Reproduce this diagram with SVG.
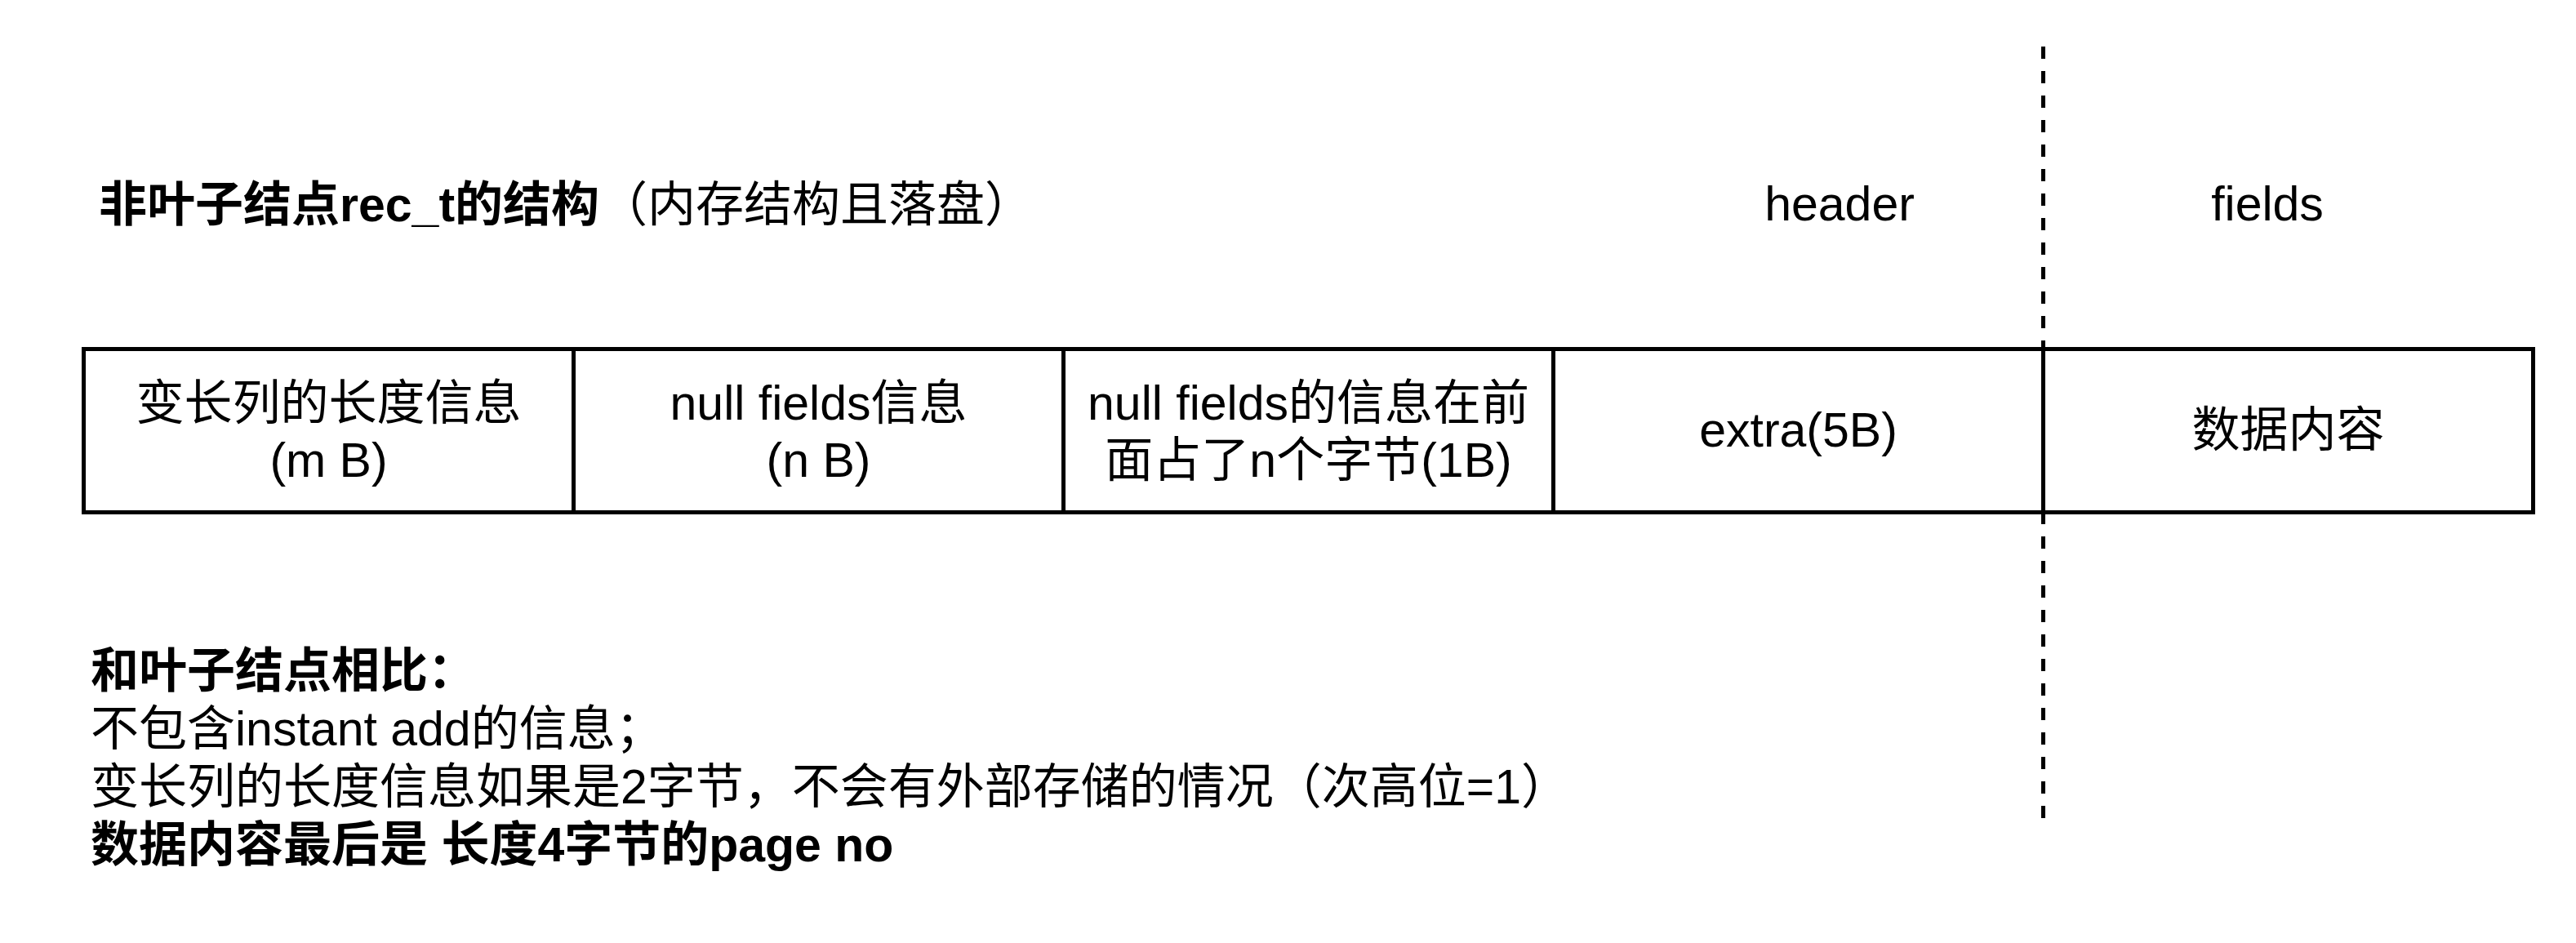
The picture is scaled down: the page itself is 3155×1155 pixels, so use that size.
<svg xmlns="http://www.w3.org/2000/svg" width="3155" height="1155" viewBox="0 0 3155 1155">
  <style>
    text { font-family: "Liberation Sans", "Noto Sans CJK SC", sans-serif; font-size: 59px; fill: #000; }
    .b { font-weight: bold; }
    .c { text-anchor: middle; }
    .cell { fill: #fff; stroke: #000; stroke-width: 5; }
    .dash { stroke: #000; stroke-width: 5; stroke-dasharray: 15 15; fill: none; }
  </style>
  <rect x="0" y="0" width="3155" height="1155" fill="#fff"/>

  <g id="title">
    <text class="b" x="121" y="271">非叶子结点rec_t的结构<tspan font-weight="normal">（内存结构且落盘）</tspan></text>
  </g>
  <g id="label-header">
    <text class="c" x="2253" y="270">header</text>
  </g>
  <g id="label-fields">
    <text class="c" x="2777" y="270">fields</text>
  </g>

  <g id="cell-varlen">
    <rect class="cell" x="102.5" y="427.5" width="600" height="200"/>
    <text class="c" x="402.5" y="514">变长列的长度信息</text>
    <text class="c" x="402.5" y="584">(m B)</text>
  </g>
  <g id="cell-nullfields">
    <rect class="cell" x="702.5" y="427.5" width="600" height="200"/>
    <text class="c" x="1002.5" y="514">null fields信息</text>
    <text class="c" x="1002.5" y="584">(n B)</text>
  </g>
  <g id="cell-nullinfo">
    <rect class="cell" x="1302.5" y="427.5" width="600" height="200"/>
    <text class="c" x="1602.5" y="514">null fields的信息在前</text>
    <text class="c" x="1602.5" y="584">面占了n个字节(1B)</text>
  </g>
  <g id="cell-extra">
    <rect class="cell" x="1902.5" y="427.5" width="600" height="200"/>
    <text class="c" x="2202.5" y="547">extra(5B)</text>
  </g>
  <g id="cell-data">
    <rect class="cell" x="2502.5" y="427.5" width="600" height="200"/>
    <text class="c" x="2802.5" y="547">数据内容</text>
  </g>

  <g id="connectors">
    <line class="dash" x1="2502.5" y1="57" x2="2502.5" y2="1003"/>
  </g>

  <g id="notes">
    <text class="b" x="111" y="842">和叶子结点相比：</text>
    <text x="111" y="913">不包含instant add的信息；</text>
    <text x="111" y="984">变长列的长度信息如果是2字节，不会有外部存储的情况（次高位=1）</text>
    <text class="b" x="111" y="1055">数据内容最后是 长度4字节的page no</text>
  </g>
</svg>
